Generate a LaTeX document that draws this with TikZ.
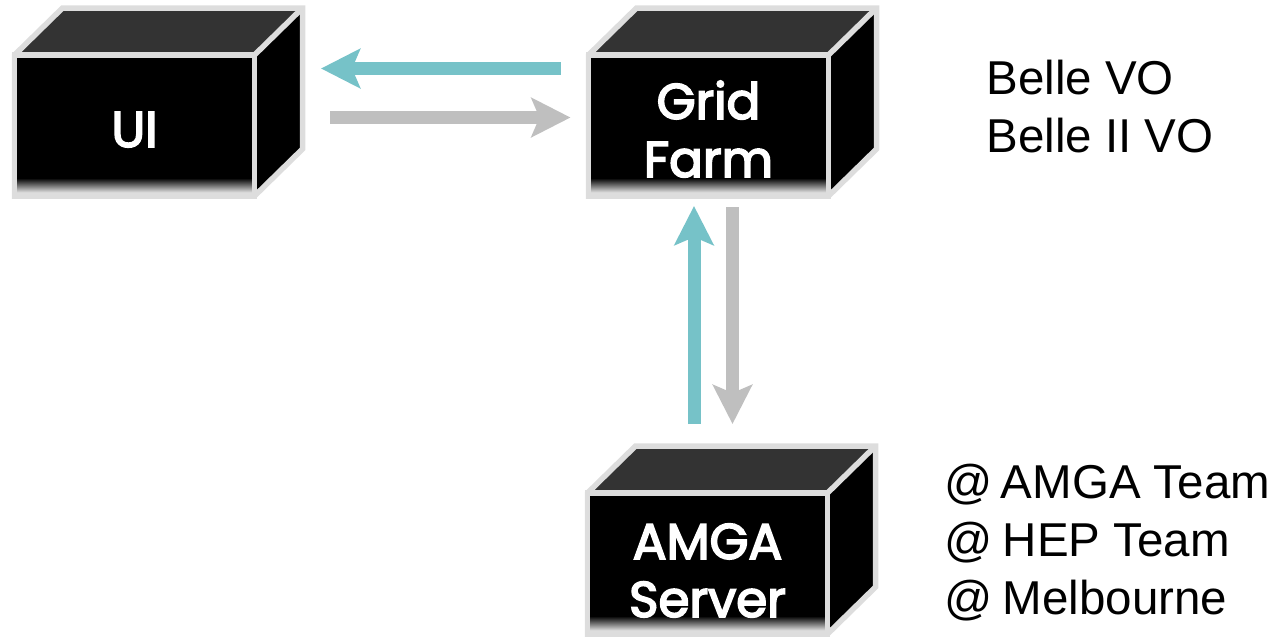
\documentclass[tikz,border=0pt]{standalone}
\usepackage{fontspec}
\setmainfont{Liberation Sans}
\newfontfamily\cratefont{Poppins}[FakeBold=3.5]
\usetikzlibrary{arrows.meta, positioning, calc}
\definecolor{crateedge}{RGB}{221,221,221}
\definecolor{cratetop}{RGB}{51,51,51}
\definecolor{replyteal}{RGB}{118,194,200}
\definecolor{querygrey}{RGB}{191,191,191}
\tikzset{
  crate/.style={
	draw=crateedge, line width=5.5pt, fill=black, text=white, % front face of the box
	minimum width=240pt, minimum height=141pt, inner sep=0pt, outer sep=0pt,
	font=\cratefont\fontsize{50}{58}\selectfont, align=center,
	node distance=574pt, % specifies the distance between two boxes
	path picture={\foreach \i in {0,...,14}
		\fill[crateedge!\the\numexpr\i*7\relax!black]
			([yshift=18pt-\i*1pt]path picture bounding box.south west) rectangle (path picture bounding box.south east);},
	append after command={
		% top and side faces, then the outline round the box
		\pgfextra{\fill[cratetop]
			(\tikzlastnode.north west) -- ++(48pt,47pt) -- ++(240pt,0pt) -- (\tikzlastnode.north east) -- cycle;
		\fill[black]
			(\tikzlastnode.north east) -- ++(48pt,47pt) -- ++(0pt,-141pt) -- (\tikzlastnode.south east) -- cycle;
		\draw[draw=crateedge, line width=5.5pt, line join=miter]
			(\tikzlastnode.north west) -- ++(48pt,47pt) -- ++(240pt,0pt) -- ++(0pt,-141pt) -- (\tikzlastnode.south east) -- (\tikzlastnode.south west) -- cycle;
		\draw[draw=crateedge, line width=5.5pt]
			(\tikzlastnode.north east) -- ++(48pt,47pt);}
	},
  },
  notes/.style={font=\fontsize{47.5}{58}\selectfont, align=left, inner sep=0pt, outer sep=0pt},
  flow/.style={line width=13pt, -{Stealth[length=39pt, width=39pt, inset=8pt]}},
}
\newcommand{\cratetext}[2]{\raisebox{-#1}[0pt][0pt]{\begin{tabular}{@{}c@{}}#2\end{tabular}}}
\begin{document}
\begin{tikzpicture}[x=1pt, y=-1pt]
\useasboundingbox (0,0) rectangle (1273,641);
\node[crate] (ui) at (134.5,125.5) {\cratetext{16pt}{UI}};
\node[crate, right of=ui] (grid) {\cratetext{17pt}{Grid\\Farm}};
\node[crate, below of=grid, node distance=438pt, xshift=-1pt] (amga) {\cratetext{19pt}{AMGA\\Server}};

\node[notes, right=158pt of grid, yshift=19pt] (vos) {Belle VO\\Belle II VO};
\node[notes, right=117pt of amga, yshift=21pt] (sites) {@\hspace{-5pt} AMGA Team\\@\hspace{-3pt} HEP Team\\@\hspace{-3pt} Melbourne};

\draw[flow, replyteal] ([xshift=-28pt, yshift=57pt]grid.west) -- ([xshift=66.5pt, yshift=57pt]ui.east);
\draw[flow, querygrey] ([xshift=75.5pt, yshift=8pt]ui.east) -- ([xshift=-18pt, yshift=8pt]grid.west);
\draw[flow, replyteal] ([xshift=-13.5pt, yshift=69pt]amga.north) -- ([xshift=-14.5pt, yshift=-10pt]grid.south);
\draw[flow, querygrey] ([xshift=24pt, yshift=-11pt]grid.south) -- ([xshift=25pt, yshift=69pt]amga.north);
\end{tikzpicture}
\end{document}
